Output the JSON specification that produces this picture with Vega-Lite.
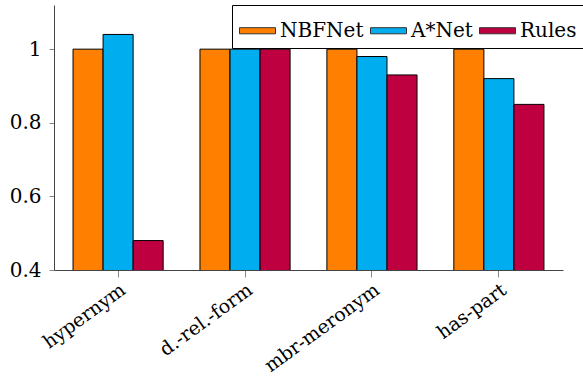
{
  "$schema": "https://vega.github.io/schema/vega-lite/v6.json",
  "autosize": "none",
  "width": 509,
  "height": 265,
  "padding": {"left": 54, "top": 5, "right": 20, "bottom": 111},
  "background": "white",
  "config": {
    "font": "DejaVu Serif",
    "view": {"stroke": null},
    "axis": {"labelFont": "DejaVu Serif"},
    "legend": {"labelFont": "DejaVu Serif"}
  },
  "data": {
    "values": [
      {"relation": "hypernym", "model": "NBFNet", "value": 1.0},
      {"relation": "hypernym", "model": "A*Net", "value": 1.04},
      {"relation": "hypernym", "model": "Rules", "value": 0.48},
      {"relation": "d.-rel.-form", "model": "NBFNet", "value": 1.0},
      {"relation": "d.-rel.-form", "model": "A*Net", "value": 1.0},
      {"relation": "d.-rel.-form", "model": "Rules", "value": 1.0},
      {"relation": "mbr-meronym", "model": "NBFNet", "value": 1.0},
      {"relation": "mbr-meronym", "model": "A*Net", "value": 0.98},
      {"relation": "mbr-meronym", "model": "Rules", "value": 0.93},
      {"relation": "has-part", "model": "NBFNet", "value": 1.0},
      {"relation": "has-part", "model": "A*Net", "value": 0.92},
      {"relation": "has-part", "model": "Rules", "value": 0.85}
    ]
  },
  "mark": {"type": "bar", "stroke": "black", "strokeWidth": 1, "clip": true},
  "encoding": {
    "x": {
      "field": "relation",
      "type": "nominal",
      "sort": ["hypernym", "d.-rel.-form", "mbr-meronym", "has-part"],
      "scale": {"paddingInner": 0.29, "paddingOuter": 0.15},
      "axis": {
        "title": null,
        "labelAngle": -36,
        "labelFont": "DejaVu Serif",
        "labelFontSize": 19,
        "labelColor": "black",
        "labelPadding": 3,
        "domainColor": "#444",
        "tickColor": "#888",
        "tickSize": 7,
        "ticks": true
      }
    },
    "xOffset": {
      "field": "model",
      "type": "nominal",
      "sort": ["NBFNet", "A*Net", "Rules"],
      "scale": {"paddingInner": 0, "paddingOuter": 0}
    },
    "y": {
      "field": "value",
      "type": "quantitative",
      "scale": {"domain": [0.4, 1.12], "zero": false, "nice": false},
      "axis": {
        "title": null,
        "values": [0.4, 0.6, 0.8, 1],
        "labelExpr": "datum.value == 1 ? '1' : format(datum.value, '.1f')",
        "labelFont": "DejaVu Serif",
        "labelFontSize": 20,
        "labelColor": "black",
        "labelPadding": 8,
        "grid": false,
        "domainColor": "#444",
        "tickColor": "#888",
        "tickSize": 5
      }
    },
    "color": {
      "field": "model",
      "type": "nominal",
      "sort": ["NBFNet", "A*Net", "Rules"],
      "scale": {"domain": ["NBFNet", "A*Net", "Rules"], "range": ["#FF8000", "#00AEEF", "#BF0040"]},
      "legend": {
        "title": null,
        "orient": "none",
        "legendX": 178,
        "legendY": 0,
        "direction": "horizontal",
        "fillColor": "white",
        "strokeColor": "black",
        "padding": 7,
        "symbolType": "M-1,-0.17H1V0.17H-1Z",
        "symbolSize": 1296,
        "symbolStrokeColor": "#333",
        "symbolStrokeWidth": 1,
        "symbolOpacity": 1,
        "labelFont": "DejaVu Serif",
        "labelFontSize": 20,
        "labelColor": "black",
        "labelOffset": 4,
        "columnPadding": 4
      }
    }
  }
}
